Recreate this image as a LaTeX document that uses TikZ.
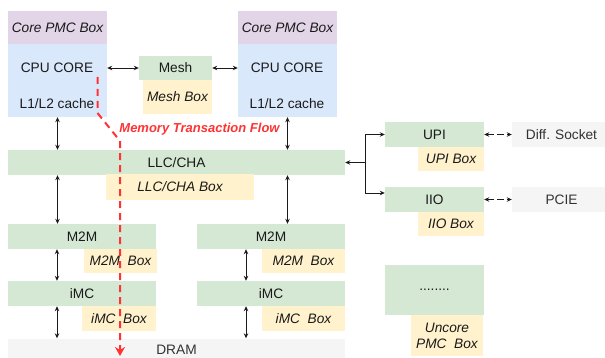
\documentclass[tikz,border=0pt]{standalone}
\usepackage{fontspec}
\setmainfont{Liberation Sans}
\usetikzlibrary{arrows.meta}
\definecolor{cpurple}{HTML}{E1D5E7}
\definecolor{cblue}{HTML}{DAE8FC}
\definecolor{cgreen}{HTML}{D5E8D4}
\definecolor{cyellow}{HTML}{FFF2CC}
\definecolor{cgray}{HTML}{F5F5F5}
\definecolor{cred}{HTML}{FF3333}
\definecolor{tcol}{HTML}{1A1A1A}
\definecolor{gtext}{HTML}{333333}
\begin{document}
\begin{tikzpicture}[x=1pt,y=-1pt,
  every node/.style={font=\fontsize{13.7}{16}\selectfont, text=tcol},
  bx/.style n args={2}{rectangle, inner sep=0pt, draw=none, minimum width=#1pt, minimum height=#2pt},
  pmc/.style={fill=cpurple, font=\fontsize{13.7}{16}\selectfont\itshape},
  cpu/.style={fill=cblue},
  unit/.style={fill=cgreen},
  ybox/.style={fill=cyellow, font=\fontsize{13.7}{16}\selectfont\itshape},
  ext/.style={fill=cgray, text=gtext},
  tip/.tip={Stealth[length=5pt,width=4.5pt]},
  conn/.style={line width=0.9pt, draw=tcol},
  dbl/.style={conn, tip-tip},
  flow/.style={draw=cred, line width=2pt, dash pattern=on 7pt off 5pt, -{Stealth[length=9pt,width=10pt]}}
]
\useasboundingbox (0,0) rectangle (605,358);

% CPU cores
\node[bx={99}{33}, pmc] (lpmc) at (57.5,27.5) {Core PMC Box};
\node[bx={99}{73}, cpu] (lcpu) at (57.5,80.5) {};
\node (lcore) at (57,68) {CPU CORE};
\node (lcache) at (57,104) {L1/L2 cache};

\node[bx={99}{33}, pmc] (rpmc) at (287.5,27.5) {Core PMC Box};
\node[bx={99}{73}, cpu] (rcpu) at (287.5,80.5) {};
\node (rcore) at (287,68) {CPU CORE};
\node (rcache) at (287,104) {L1/L2 cache};

% Mesh
\node[bx={73}{24}, unit] (mesh) at (175.5,68) {Mesh};
\node[bx={69}{34}, ybox] (meshbox) at (177.5,97) {Mesh Box};

% LLC/CHA
\node[bx={337}{25}, unit] (llc) at (176.5,162.5) {LLC/CHA};
\node[bx={148}{26}, ybox] (llcbox) at (180,187) {LLC/CHA Box};

% M2M
\node[bx={148}{25}, unit] (m2ml) at (82,236.5) {M2M};
\node[bx={73}{24}, ybox] (m2mlbox) at (120.5,261) {M2M~ Box};
\node[bx={148}{25}, unit] (m2mr) at (271,236.5) {M2M};
\node[bx={83}{24}, ybox] (m2mrbox) at (303.5,261) {M2M~ Box};

% iMC
\node[bx={148}{25}, unit] (imcl) at (82,293.5) {iMC};
\node[bx={74}{25}, ybox] (imclbox) at (119,318.5) {iMC~ Box};
\node[bx={148}{25}, unit] (imcr) at (271,293.5) {iMC};
\node[bx={83}{25}, ybox] (imcrbox) at (303.5,318.5) {iMC~ Box};

% DRAM
\node[bx={337}{22}, ext] (dram) at (176.5,349.5) {DRAM};

% UPI / IIO
\node[bx={99}{25}, unit] (upi) at (434.5,134.5) {UPI};
\node[bx={66}{24}, ybox] (upibox) at (451,159) {UPI Box};
\node[bx={99}{25}, ext] (diff) at (561.5,134.5) {Diff. Socket};
\node[bx={99}{25}, unit] (iio) at (434.5,199.5) {IIO};
\node[bx={66}{24}, ybox] (iiobox) at (451,224) {IIO Box};
\node[bx={99}{25}, ext] (pcie) at (561.5,199.5) {PCIE};

% Uncore
\node[bx={99}{50}, unit] (uncore) at (434.5,290) {........};
\node[bx={72}{41}, ybox, align=center] (uncorebox) at (447,335.5) {Uncore\\PMC~ Box};

% connectors
\draw[dbl] (lcpu.east |- mesh.center) -- (mesh.west);
\draw[dbl] (mesh.east) -- (rcpu.west |- mesh.center);
\draw[dbl] (lcpu.south) -- (lcpu.south |- llc.north);
\draw[dbl] (rcpu.south) -- (rcpu.south |- llc.north);
\draw[dbl] (lcpu.south |- llc.south) -- (lcpu.south |- m2ml.north);
\draw[dbl] (rcpu.south |- llc.south) -- (rcpu.south |- m2mr.north);
\coordinate (lx) at (57,0);
\coordinate (rx) at (246,0);
\draw[dbl] (lx |- m2ml.south) -- (lx |- imcl.north);
\draw[dbl] (rx |- m2mr.south) -- (rx |- imcr.north);
\draw[dbl] (lx |- imcl.south) -- (lx |- dram.north);
\draw[dbl] (rx |- imcr.south) -- (rx |- dram.north);

\coordinate (j) at (365,162.5);
\coordinate (iioin) at (0,193);
\draw[conn, -tip] (j) -- (llc.east);
\draw[conn, -tip] (j) |- (upi.west);
\draw[conn, -tip] (j) |- (iio.west |- iioin);
\draw[dbl, dash pattern=on 7pt off 3pt] (upi.east) -- (diff.west);
\draw[dbl, dash pattern=on 7pt off 3pt] (iio.east) -- (pcie.west);

% memory transaction flow
\coordinate (f1) at (97.5,77);
\coordinate (f2) at (97.5,113);
\coordinate (f3) at (120,141);
\coordinate (f4) at (120,356);
\draw[flow] (f1) -- (f2) -- (f3) -- (f4);
\node[text=cred, font=\fontsize{13}{16}\selectfont\bfseries\itshape] (flowlbl) at (199.5,129) {Memory Transaction Flow};
\end{tikzpicture}
\end{document}
